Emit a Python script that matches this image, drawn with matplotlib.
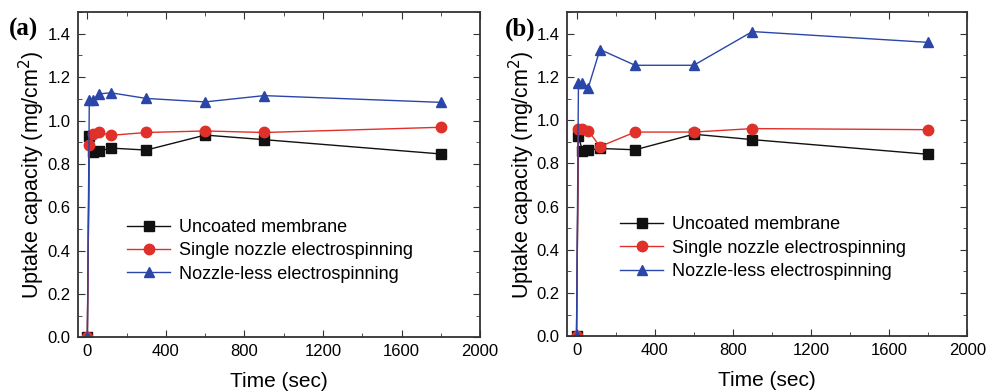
import numpy as np
import matplotlib
matplotlib.use("Agg")
import matplotlib.pyplot as plt
from matplotlib.ticker import MultipleLocator

plt.rcParams['font.family'] = ['Liberation Sans', 'DejaVu Sans']

time = [0, 10, 30, 60, 120, 300, 600, 900, 1800]
labels = ["Uncoated membrane", "Single nozzle electrospinning", "Nozzle-less electrospinning"]

# panel (a)
a_uncoated = [0, 0.928, 0.856, 0.859, 0.873, 0.864, 0.933, 0.912, 0.846]
a_single = [0, 0.889, 0.938, 0.945, 0.932, 0.945, 0.952, 0.945, 0.969]
a_nozzleless = [0, 1.094, 1.094, 1.123, 1.128, 1.102, 1.086, 1.115, 1.084]

# panel (b)
b_uncoated = [0, 0.929, 0.857, 0.860, 0.869, 0.863, 0.935, 0.910, 0.842]
b_single = [0, 0.960, 0.957, 0.952, 0.878, 0.945, 0.945, 0.961, 0.956]
b_nozzleless = [0, 1.173, 1.170, 1.150, 1.327, 1.254, 1.254, 1.410, 1.360]

colors = ['#111111', '#e0302a', '#2a46a8']
markers = ['s', 'o', '^']

fig = plt.figure(figsize=(9.99, 3.91), dpi=100)
ax_a = fig.add_axes([0.0776, 0.137, 0.403, 0.832])
ax_b = fig.add_axes([0.5673, 0.140, 0.401, 0.829])

panels = [(ax_a, [a_uncoated, a_single, a_nozzleless], "(a)", 0.009, (0.105, 0.386)),
          (ax_b, [b_uncoated, b_single, b_nozzleless], "(b)", 0.505, (0.115, 0.392))]

for ax, series, tag, tx, anchor in panels:
    for y, c, m, lab in zip(series, colors, markers, labels):
        ax.plot(time, y, color=c, marker=m, markersize=7.5, linewidth=1,
                label=lab, markeredgecolor=c)
    ax.set_xlim(-50, 2000)
    ax.set_ylim(0, 1.5)
    ax.xaxis.set_major_locator(MultipleLocator(400))
    ax.xaxis.set_minor_locator(MultipleLocator(200))
    ax.yaxis.set_minor_locator(MultipleLocator(0.1))
    ax.set_yticks(np.arange(0, 1.41, 0.2))
    ax.set_yticklabels([f"{v:.1f}" for v in np.arange(0, 1.41, 0.2)])
    ax.tick_params(which='both', direction='in', top=True, right=True,
                   labelsize=12, color='#333333')
    ax.tick_params(which='major', length=5, pad=5)
    ax.tick_params(which='minor', length=3)
    for s in ax.spines.values():
        s.set_color('#333333')
        s.set_linewidth(1.3)
    ax.set_xlabel("Time (sec)", fontsize=15, labelpad=9)
    ax.set_ylabel("Uptake capacity (mg/cm$^2$)", fontsize=15.5, labelpad=0)
    ax.legend(loc='upper left', bbox_to_anchor=anchor, frameon=False,
              fontsize=13, handlelength=2.4, handletextpad=0.5,
              labelspacing=0.35, borderaxespad=0)
    fig.text(tx, 0.91, tag, fontsize=18, fontweight='bold', family='Liberation Serif')

fig.savefig("out.png", dpi=100)
plt.close()
